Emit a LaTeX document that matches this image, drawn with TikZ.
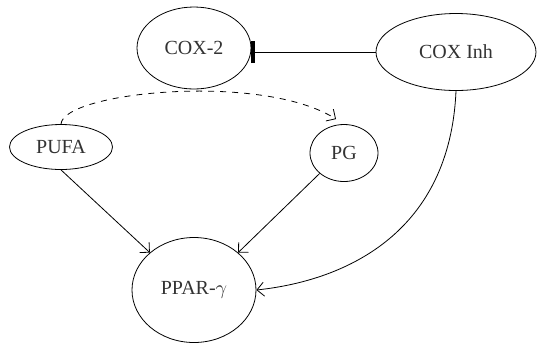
\documentclass[tikz,border=0pt]{standalone}
\usepackage{fontspec}
\setmainfont{Liberation Serif}
\usetikzlibrary{shapes.geometric,arrows.meta}

\begin{document}
\begin{tikzpicture}[x=0.5pt,y=-0.5pt,
    bula/.style={draw,ellipse,inner sep=0pt,text=black!80,font=\fontsize{10}{12}\selectfont},
    sageata/.style={-{Straight Barb[length=3.5pt,width=7pt]}},
    inhiba/.style={-{Bar[width=11pt,line width=2pt]}}]
  % cadrul imaginii
  \useasboundingbox (0,0) rectangle (537,345);

  % nodurile
  \node[bula,minimum width=57pt,minimum height=41pt] (cox2) at (194,48) {COX-2};
  \node[bula,minimum width=80pt,minimum height=38.5pt] (coxinh) at (456,52) {COX Inh};
  \node[bula,minimum width=51.5pt,minimum height=22.5pt] (pufa) at (61,147) {PUFA};
  \node[bula,minimum width=34pt,minimum height=28.5pt] (pg) at (344,153) {PG};
  \node[bula,minimum width=62pt,minimum height=52.5pt] (ppar) at (194,290) {PPAR-$\gamma$};

  % inhibarea COX-2 (linie orizontala)
  \draw[inhiba] (coxinh.west) -- (coxinh.west -| cox2.east);

  % conversia PUFA -> PG (punctat)
  \draw[sageata,dashed] (pufa.north) .. controls (63,92) and (262,72) .. ([xshift=-4pt,yshift=2.5pt]pg.north);

  % activarea PPAR
  \draw[sageata] (pufa.south) -- (ppar.north west);
  \draw[sageata] (pg.south west) -- (ppar.north east);
  \draw[sageata] (coxinh.south) .. controls (450,230) and (350,280) .. (ppar.east);
\end{tikzpicture}
\end{document}
